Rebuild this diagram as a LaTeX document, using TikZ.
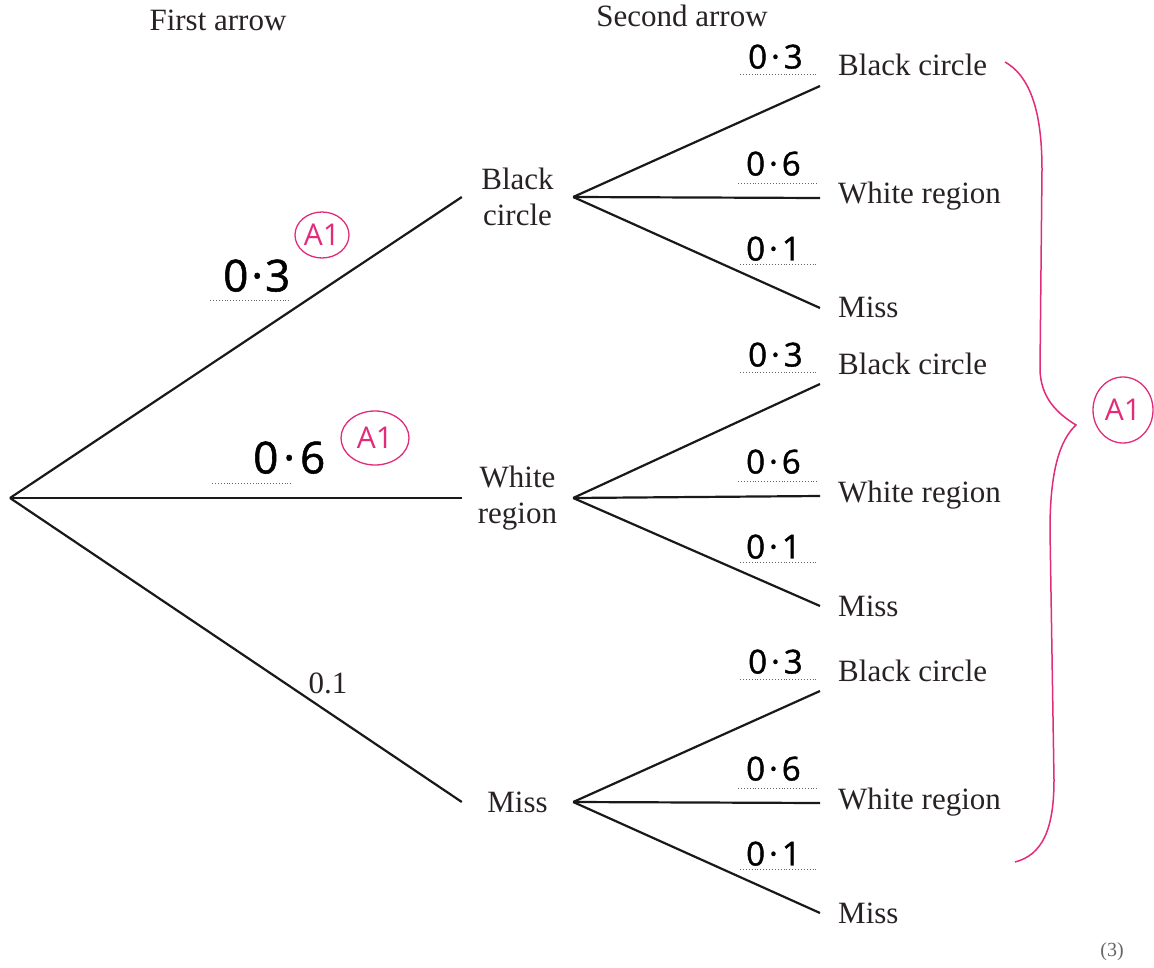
\documentclass[tikz,border=0pt]{standalone}
\usepackage{fontspec}
\setmainfont{Liberation Serif}
\newfontfamily\handfont[FakeBold=1.2]{Open Sans}
\newfontfamily\markfont{Open Sans}
\usetikzlibrary{shapes.geometric}
\definecolor{ink}{RGB}{40,34,38}
\definecolor{marker}{RGB}{226,44,122}

\begin{document}
\begin{tikzpicture}[x=1pt,y=-1pt,
  every node/.style={text=ink, font=\fontsize{31}{36}\selectfont},
  branch/.style={line width=2.2pt, black!90},
  stage/.style={minimum width=111pt, inner xsep=0pt, align=center},
  leafnode/.style={anchor=base west, inner xsep=18pt},
  handnum/.style={font=\handfont\fontsize{33}{33}\selectfont, text=black, anchor=south west, inner sep=1pt},
  bighand/.style={handnum, font=\handfont\fontsize{44}{44}\selectfont},
  dotline/.style={dotted, line width=0.9pt, black!60},
  award/.style={ellipse, draw=marker, line width=1.3pt, text=marker, inner sep=0pt,
    font=\markfont\fontsize{30}{30}\selectfont},
  bracepen/.style={draw=marker, line width=1.5pt}
]
\useasboundingbox[fill=white] (0,0) rectangle (1154,968);

% column headings
\node[anchor=base] (head1) at (218,31) {First arrow};
\node[anchor=base] (head2) at (682,27) {Second arrow};

% first stage
\coordinate (root) at (10,498);
\node[stage] (bc) at (517.5,197) {Black\\circle};
\node[stage] (wr) at (517.5,498) {White\\region};
\node[stage] (ms) at (517.5,802) {Miss};

\draw[branch] (root) -- (bc.west);
\draw[branch] (root) -- (wr.west);
\draw[branch] (root) -- (ms.west);

% second stage leaves
\foreach \p/\y in {bc/0, wr/298, ms/605}{
  \node[leafnode] (\p1) at (820,76+\y) {Black circle};
  \node[leafnode] (\p2) at (820,204+\y) {White region};
  \node[leafnode] (\p3) at (820,318+\y) {Miss};
  \draw[branch] (\p.east) -- ([yshift=-10pt]\p1.base west);
  \draw[branch] (\p.east) -- ([yshift=6pt]\p2.base west);
  \draw[branch] (\p.east) -- ([yshift=10pt]\p3.base west);
}

% printed probability
\node[anchor=base] (pmiss) at (328,693) {0.1};

% handwritten probabilities, first stage
\node[bighand] (h1) at (222,293) {0\kern3pt·\kern2pt3};
\draw[dotline] (210,300) -- (290,300);
\node[bighand] (h2) at (252,475) {0\kern5pt·\kern5pt6};
\draw[dotline] (212,483) -- (292,483);

% handwritten probabilities, second stage
\foreach \y/\n in {0/a, 298/b, 605/c}{
  \node[handnum] (\n1) at (747,70+\y) {0\kern4pt·\kern4pt3};
  \draw[dotline] (740,74+\y) -- (817,74+\y);
  \node[handnum] (\n2) at (745,177+\y) {0\kern4pt·\kern4pt6};
  \draw[dotline] (738,183+\y) -- (817,183+\y);
  \node[handnum] (\n3) at (745,262+\y) {0\kern4pt·\kern4pt1};
  \draw[dotline] (740,264+\y) -- (817,264+\y);
}

% marks
\node[award, minimum width=54pt, minimum height=46pt] (m1) at (322,235) {A1};
\node[award, minimum width=68pt, minimum height=54pt] (m2) at (375,438) {A1};
\node[award, minimum width=60pt, minimum height=66pt] (m3) at (1123,410) {A1};

% brace gathering the second-stage outcomes
\coordinate (tip) at (1076,425);
\draw[bracepen] (1005,62) .. controls (1033,78) and (1042,118) .. (1042,170)
  -- (1040,368) .. controls (1040,398) and (1058,414) .. (tip)
  .. controls (1060,440) and (1050,470) .. (1050,530)
  -- (1054,780) .. controls (1054,830) and (1042,855) .. (1015,862);

\node[anchor=base, font=\fontsize{20}{24}\selectfont, text=black!60] (marks) at (1112,956) {(3)};
\end{tikzpicture}
\end{document}
